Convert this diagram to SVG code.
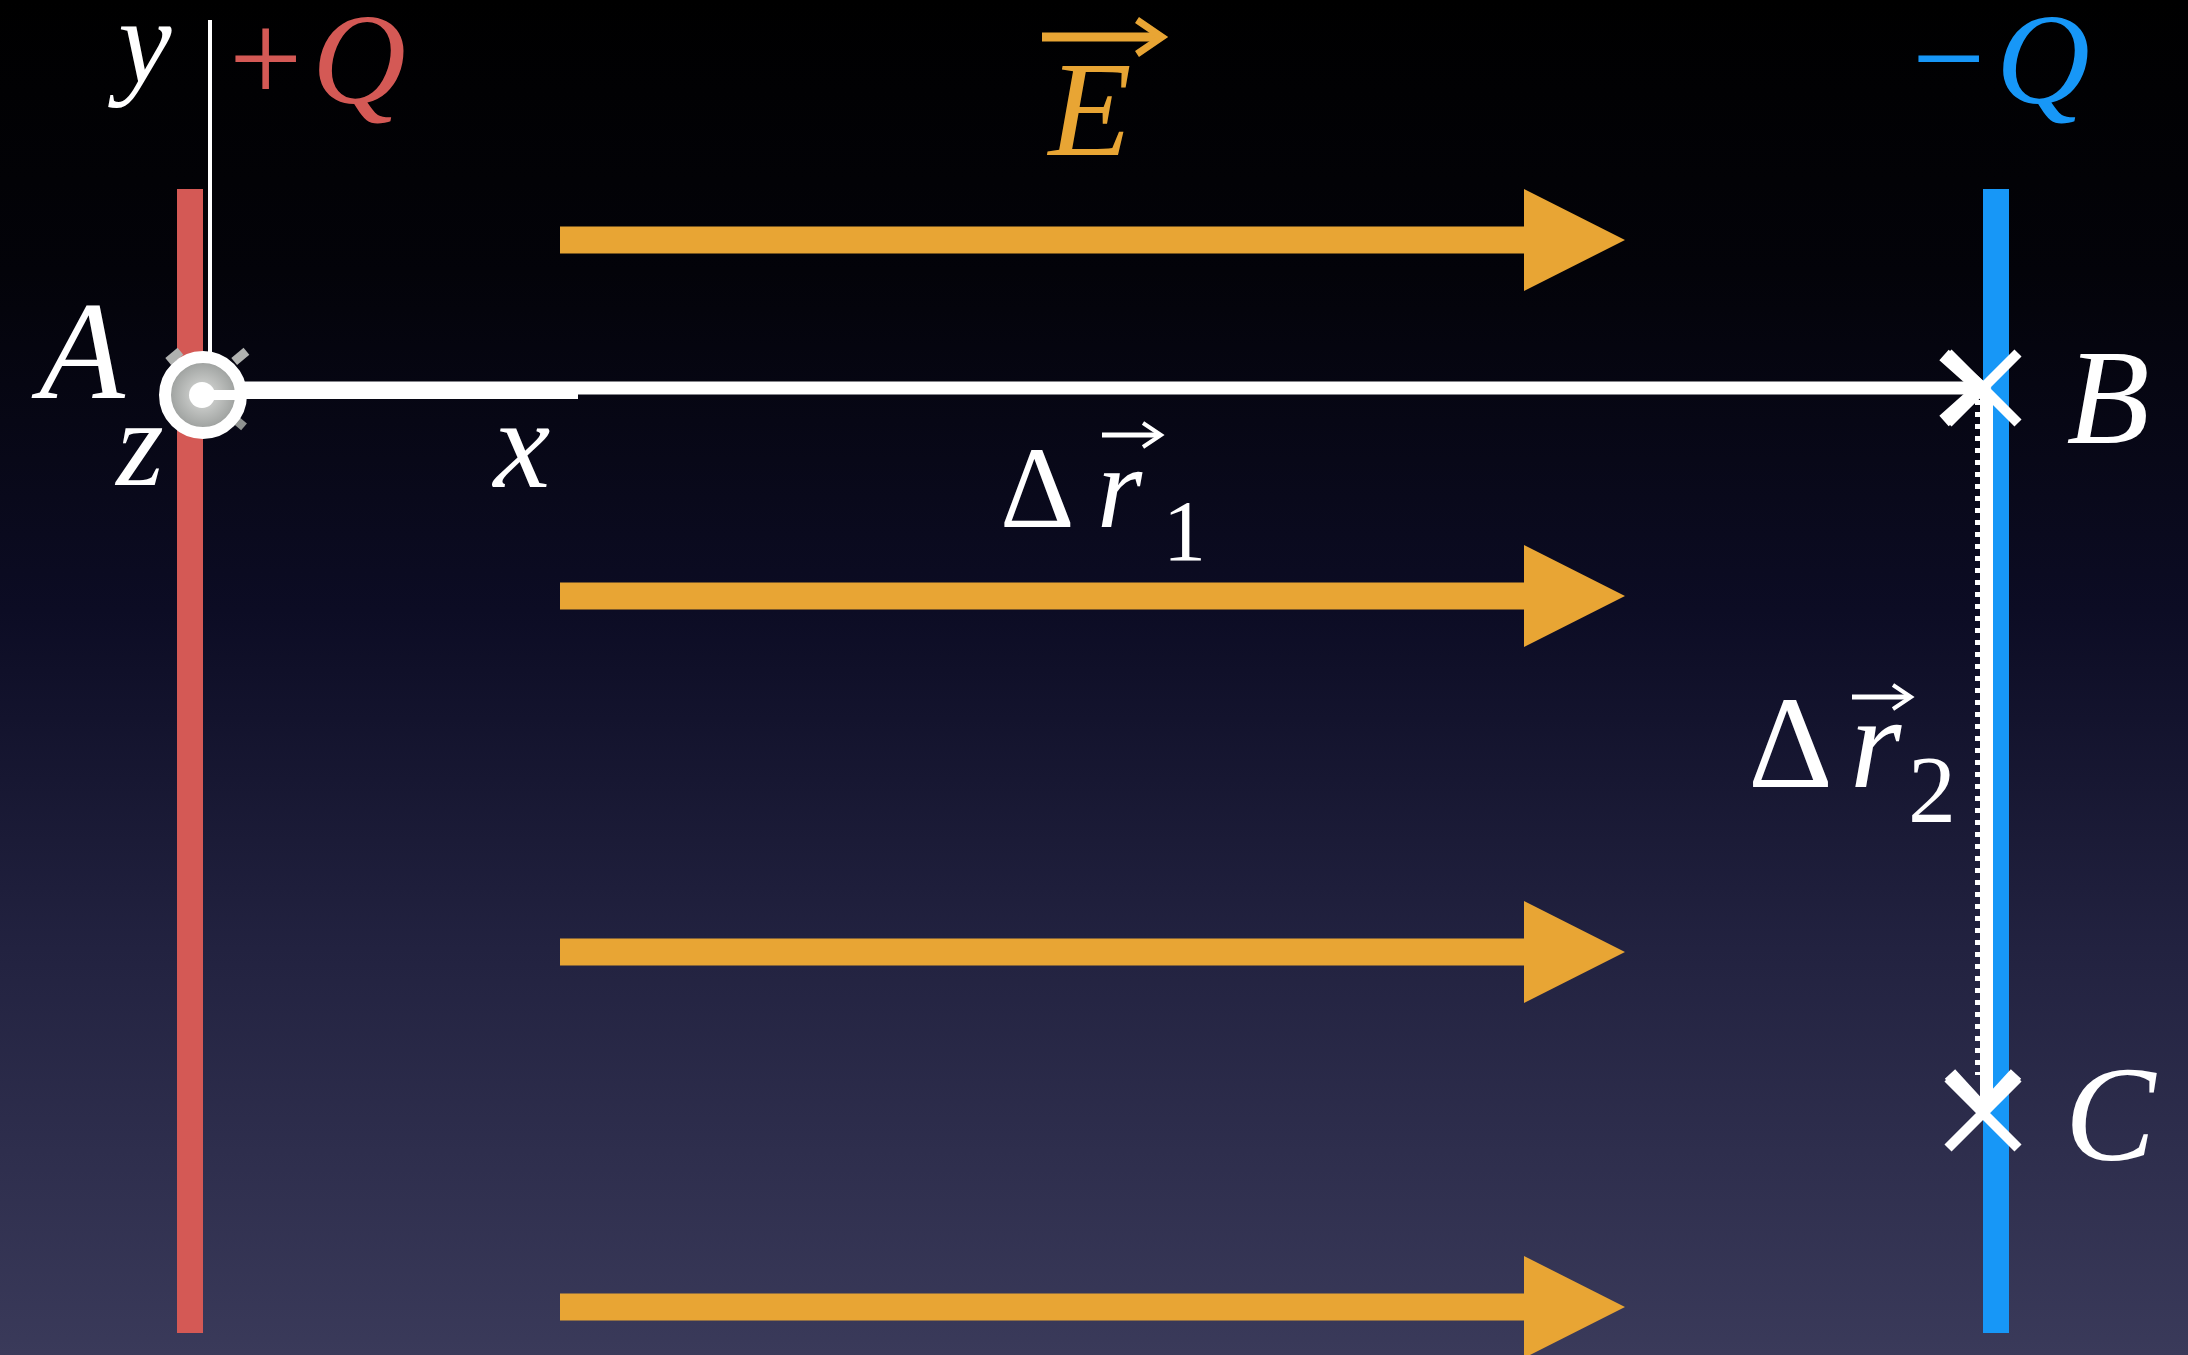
<svg xmlns="http://www.w3.org/2000/svg" width="2188" height="1355" viewBox="0 0 2188 1355">
<defs>
<linearGradient id="bg" x1="0" y1="0" x2="0" y2="1">
<stop offset="0" stop-color="#000000"/>
<stop offset="0.2" stop-color="#030309"/>
<stop offset="0.45" stop-color="#0c0c24"/>
<stop offset="0.7" stop-color="#222240"/>
<stop offset="1" stop-color="#3a3a5a"/>
</linearGradient>
<radialGradient id="ring" cx="0.5" cy="0.5" r="0.5">
<stop offset="0.35" stop-color="#c4c6c4"/>
<stop offset="0.8" stop-color="#a4a7a5"/>
<stop offset="1" stop-color="#8f9290"/>
</radialGradient>
<polygon id="farrow" points="0,-13.5 964,-13.5 964,-51 1065,0 964,51 964,13.5 0,13.5"/>
</defs>
<style>
text{font-family:'Liberation Serif',Tinos,'Times New Roman',Times,serif;fill:#ffffff}
.it{font-style:italic}
.field{fill:#e8a534}
.wl{stroke:#ffffff;fill:none}
.vec{stroke:#ffffff;fill:none;stroke-width:5;stroke-linecap:butt}
</style>
<rect x="0" y="0" width="2188" height="1355" fill="url(#bg)"/>

<g id="plate-plus">
<rect x="177" y="189" width="26" height="1144" fill="#d45955"/>
<text font-family="Liberation Serif, serif" x="229" y="102" font-size="130" style="fill:#d45955">+</text>
<text class="it" font-family="Liberation Serif, serif" x="312" y="103" font-size="130" style="fill:#d45955">Q</text>
</g>

<g id="plate-minus">
<rect x="1983" y="189" width="26" height="1144" fill="#1797f7"/>
<text font-family="Liberation Serif, serif" x="1912" y="102" font-size="130" style="fill:#1797f7">−</text>
<text class="it" font-family="Liberation Serif, serif" x="1996" y="103" font-size="130" style="fill:#1797f7">Q</text>
</g>

<g id="field">
<use href="#farrow" x="560" y="240" class="field"/>
<use href="#farrow" x="560" y="596" class="field"/>
<use href="#farrow" x="560" y="952" class="field"/>
<use href="#farrow" x="560" y="1307" class="field"/>
<g id="label-E">
<text class="it" font-family="Liberation Serif, serif" x="1090" y="155" font-size="136" text-anchor="middle" style="fill:#e8a534">E</text>
<path d="M1042,37 H1158" stroke="#e8a534" stroke-width="9" fill="none"/>
<path d="M1137,20 L1162,37 L1137,54" stroke="#e8a534" stroke-width="7" fill="none"/>
</g>
</g>

<g id="connectors">
<line class="wl" x1="210" y1="20" x2="210" y2="360" stroke-width="4"/>
<line class="wl" x1="202" y1="395" x2="578" y2="395" stroke-width="8"/>
<line class="wl" x1="240" y1="388" x2="1978" y2="388" stroke-width="13"/>
<path class="wl" d="M1944,355 L1981,388 L1944,421" stroke-width="14"/>
<line class="wl" x1="1986.5" y1="392" x2="1986.5" y2="1105" stroke-width="13"/>
<line class="wl" x1="1977.5" y1="400" x2="1977.5" y2="1075" stroke-width="5" stroke-dasharray="5 7"/>
<path class="wl" d="M1950,1074 L1983,1110 L2016,1074" stroke-width="14"/>
</g>

<g id="pointA">
<rect x="166" y="352" width="16" height="9" fill="#b0b2b0" transform="rotate(-40 174 356)"/>
<rect x="232" y="352" width="16" height="9" fill="#b0b2b0" transform="rotate(-40 240 356)"/>
<rect x="232" y="418" width="14" height="9" fill="#8f9290" transform="rotate(40 239 422)"/>
<circle cx="203" cy="395" r="38" fill="url(#ring)" stroke="#ffffff" stroke-width="12"/>
<circle cx="202" cy="395" r="13" fill="#ffffff"/>
<rect x="202" y="390" width="40" height="10" fill="#ffffff"/>
<text class="it" font-family="Liberation Serif, serif" x="82" y="398" font-size="140" text-anchor="middle">A</text>
<text class="it" font-family="Liberation Serif, serif" x="145" y="82" font-size="120" text-anchor="middle">y</text>
<text class="it" font-family="Liberation Serif, serif" x="140" y="485" font-size="122" text-anchor="middle">z</text>
<text class="it" font-family="Liberation Serif, serif" x="522" y="487" font-size="128" text-anchor="middle">x</text>
</g>

<g id="pointB">
<path class="wl" d="M1948,353 L2018,423 M2018,353 L1948,423" stroke-width="10"/>
<text class="it" font-family="Liberation Serif, serif" x="2108" y="443" font-size="136" text-anchor="middle">B</text>
</g>

<g id="pointC">
<path class="wl" d="M1948,1078 L2018,1148 M2018,1078 L1948,1148" stroke-width="10"/>
<text class="it" font-family="Liberation Serif, serif" x="2110" y="1160" font-size="136" text-anchor="middle">C</text>
</g>

<g id="label-dr1">
<text font-family="Liberation Serif, serif" x="1000" y="527" font-size="116">Δ</text>
<text class="it" font-family="Liberation Serif, serif" x="1097" y="527" font-size="116">r</text>
<text font-family="Liberation Serif, serif" x="1163" y="560" font-size="86">1</text>
<path class="vec" d="M1102,435 H1160"/>
<path class="wl" d="M1143,423 L1161,435 L1143,447" stroke-width="4"/>
</g>

<g id="label-dr2">
<text font-family="Liberation Serif, serif" x="1748" y="787" font-size="132">Δ</text>
<text class="it" font-family="Liberation Serif, serif" x="1850" y="787" font-size="132">r</text>
<text font-family="Liberation Serif, serif" x="1908" y="822" font-size="96">2</text>
<path class="vec" d="M1852,697 H1910"/>
<path class="wl" d="M1893,685 L1911,697 L1893,709" stroke-width="4"/>
</g>
</svg>
